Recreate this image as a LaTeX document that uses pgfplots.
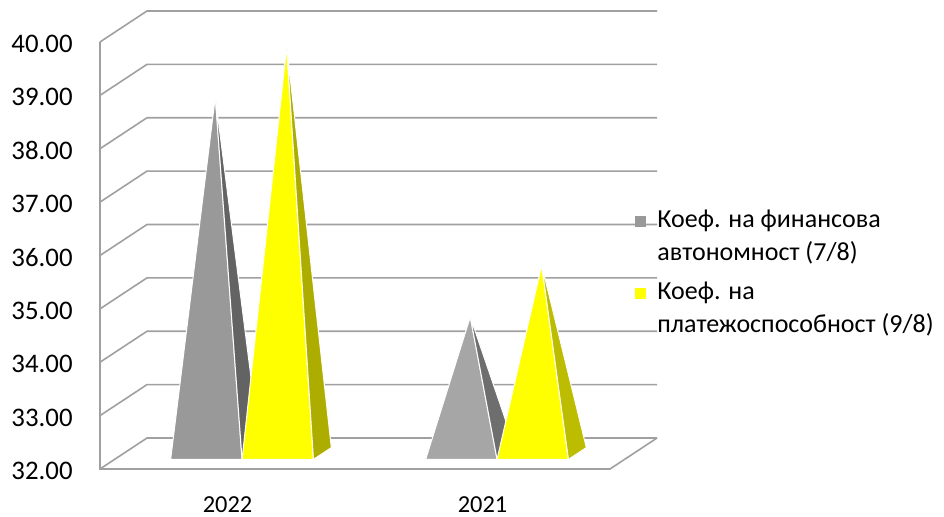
\documentclass[border=0pt]{standalone}
\usepackage{fontspec}
\setmainfont{Carlito}
\usepackage{pgfplots}
\pgfplotsset{compat=1.18}
\definecolor{gridc}{HTML}{A0A0A0}
\definecolor{grayA}{HTML}{999999}
\definecolor{grayAd}{HTML}{636363}
\definecolor{grayB}{HTML}{A6A6A6}
\definecolor{grayBd}{HTML}{6E6E6E}
\definecolor{yelA}{HTML}{FFFF00}
\definecolor{yelAd}{HTML}{ADAD00}
\definecolor{yelBd}{HTML}{BCBC00}
\definecolor{grayleg}{HTML}{999999}
\newcommand{\tickfont}{\fontsize{13.4bp}{16bp}\selectfont}
\newcommand{\yearfont}{\fontsize{12.2bp}{14bp}\selectfont}
\newcommand{\legfont}{\fontsize{13bp}{16.5bp}\selectfont}
\begin{document}
\begin{tikzpicture}
\begin{axis}[
  x={(127.5bp,0bp)}, y={(23.5bp,15.5bp)}, z={(0bp,26.6875bp)},
  xmin=0, xmax=2, ymin=0, ymax=1, zmin=32, zmax=40,
  hide axis, clip=false,
  legend cell align=left,
  legend style={font=\legfont, cells={align=left}, draw=none, fill=none,
    at={(axis cs:2.098,0,36.87)}, anchor=north west, row sep=9.5bp,
    column sep=5.5bp, inner sep=0pt, nodes={inner sep=0pt}},
  legend image code/.code={\path[draw=none, fill=none] (0bp,-10.15bp) rectangle (5.5bp,10.15bp);
    \fill[#1, draw=none] (0bp,4.65bp) rectangle (5.5bp,10.15bp);},
]
% frame: back wall and left wall gridlines
\addplot3[gridc, line width=0.8bp, forget plot] coordinates {(0,0,32) (0,1,32) (2,1,32)};
\addplot3[gridc, line width=0.8bp, forget plot] coordinates {(0,0,33) (0,1,33) (2,1,33)};
\addplot3[gridc, line width=0.8bp, forget plot] coordinates {(0,0,34) (0,1,34) (2,1,34)};
\addplot3[gridc, line width=0.8bp, forget plot] coordinates {(0,0,35) (0,1,35) (2,1,35)};
\addplot3[gridc, line width=0.8bp, forget plot] coordinates {(0,0,36) (0,1,36) (2,1,36)};
\addplot3[gridc, line width=0.8bp, forget plot] coordinates {(0,0,37) (0,1,37) (2,1,37)};
\addplot3[gridc, line width=0.8bp, forget plot] coordinates {(0,0,38) (0,1,38) (2,1,38)};
\addplot3[gridc, line width=0.8bp, forget plot] coordinates {(0,0,39) (0,1,39) (2,1,39)};
\addplot3[gridc, line width=0.8bp, forget plot] coordinates {(0,0,40) (0,1,40) (2,1,40)};
% floor front and right edges, front vertical
\addplot3[gridc, line width=0.8bp, forget plot] coordinates {(0,0,40) (0,0,32) (2,0,32) (2,1,32)};
% 2022 gray pyramid (value 38.68)
\addplot3[fill=grayA, draw=white, line width=0.5bp, forget plot] coordinates {(0.22,0.31,32) (0.5,0.31,32) (0.36,0.5,38.68)} -- cycle;
\addplot3[fill=grayAd, draw=white, line width=0.5bp, forget plot] coordinates {(0.5,0.31,32) (0.5,0.69,32) (0.36,0.5,38.68)} -- cycle;
% 2022 yellow pyramid (value 39.63)
\addplot3[fill=yelA, draw=white, line width=0.5bp, forget plot] coordinates {(0.5,0.31,32) (0.78,0.31,32) (0.64,0.5,39.63)} -- cycle;
\addplot3[fill=yelAd, draw=white, line width=0.5bp, forget plot] coordinates {(0.78,0.31,32) (0.78,0.69,32) (0.64,0.5,39.63)} -- cycle;
% 2021 gray pyramid (value 34.56)
\addplot3[fill=grayB, draw=white, line width=0.5bp, forget plot] coordinates {(1.22,0.31,32) (1.5,0.31,32) (1.36,0.5,34.56)} -- cycle;
\addplot3[fill=grayBd, draw=white, line width=0.5bp, forget plot] coordinates {(1.5,0.31,32) (1.5,0.69,32) (1.36,0.5,34.56)} -- cycle;
% 2021 yellow pyramid (value 35.53)
\addplot3[fill=yelA, draw=white, line width=0.5bp, forget plot] coordinates {(1.5,0.31,32) (1.78,0.31,32) (1.64,0.5,35.53)} -- cycle;
\addplot3[fill=yelBd, draw=white, line width=0.5bp, forget plot] coordinates {(1.78,0.31,32) (1.78,0.69,32) (1.64,0.5,35.53)} -- cycle;
% tick labels
\node[anchor=east, font=\tickfont, inner sep=0pt, xshift=-13.5bp, yshift=-1bp] at (axis cs:0,0,32) {32.00};
\node[anchor=east, font=\tickfont, inner sep=0pt, xshift=-13.5bp, yshift=-1bp] at (axis cs:0,0,33) {33.00};
\node[anchor=east, font=\tickfont, inner sep=0pt, xshift=-13.5bp, yshift=-1bp] at (axis cs:0,0,34) {34.00};
\node[anchor=east, font=\tickfont, inner sep=0pt, xshift=-13.5bp, yshift=-1bp] at (axis cs:0,0,35) {35.00};
\node[anchor=east, font=\tickfont, inner sep=0pt, xshift=-13.5bp, yshift=-1bp] at (axis cs:0,0,36) {36.00};
\node[anchor=east, font=\tickfont, inner sep=0pt, xshift=-13.5bp, yshift=-1bp] at (axis cs:0,0,37) {37.00};
\node[anchor=east, font=\tickfont, inner sep=0pt, xshift=-13.5bp, yshift=-1bp] at (axis cs:0,0,38) {38.00};
\node[anchor=east, font=\tickfont, inner sep=0pt, xshift=-13.5bp, yshift=-1bp] at (axis cs:0,0,39) {39.00};
\node[anchor=east, font=\tickfont, inner sep=0pt, xshift=-13.5bp, yshift=-1bp] at (axis cs:0,0,40) {40.00};
\node[anchor=center, font=\yearfont, inner sep=0pt, yshift=-18bp] at (axis cs:0.5,0,32) {2022};
\node[anchor=center, font=\yearfont, inner sep=0pt, yshift=-18bp] at (axis cs:1.5,0,32) {2021};
\coordinate (O) at (axis cs:0,0,32);
\addlegendimage{fill=grayleg}
\addlegendentry{Коеф. на финансова\\автономност (7/8)}
\addlegendimage{fill=yelA}
\addlegendentry{Коеф. на\\платежоспособност (9/8)}
\end{axis}
\pgfresetboundingbox
\useasboundingbox (O) ++(-50bp,-24bp) rectangle ++(472bp,258.5bp);
\end{tikzpicture}
\end{document}
